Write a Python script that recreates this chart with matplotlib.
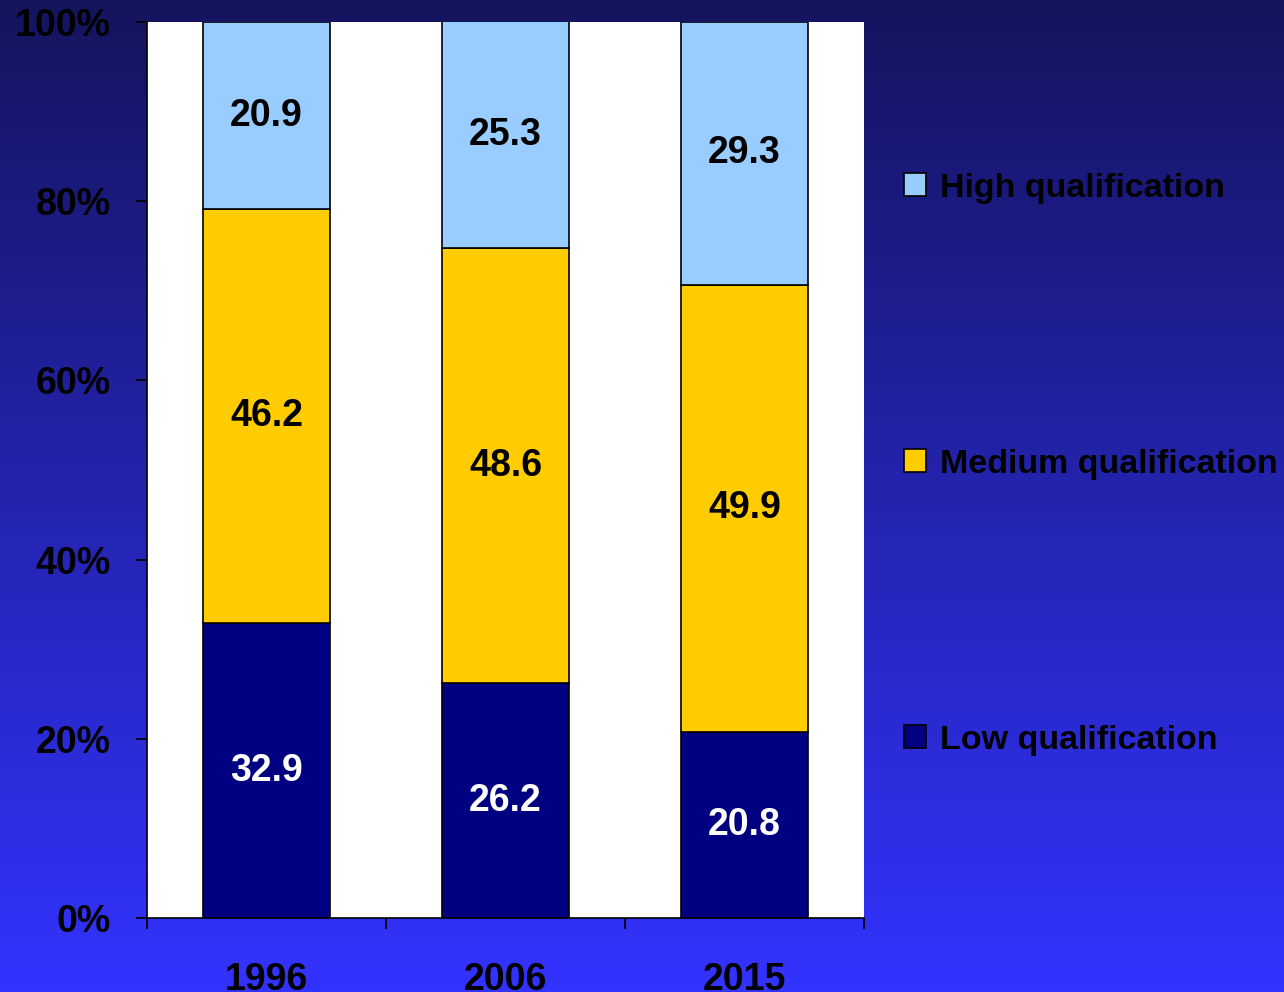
import numpy as np
import matplotlib
matplotlib.use("Agg")
import matplotlib.pyplot as plt
from matplotlib.colors import LinearSegmentedColormap

plt.rcParams['font.family'] = ['Liberation Sans', 'DejaVu Sans']
plt.rcParams['font.weight'] = 'bold'

# data
years = ['1996', '2006', '2015']
low = [32.9, 26.2, 20.8]
medium = [46.2, 48.6, 49.9]
high = [20.9, 25.3, 29.3]
series_names = ['Low qualification', 'Medium qualification', 'High qualification']
colors = ['#000080', '#FFCC00', '#99CCFF']
label_colors = ['white', 'black', 'black']

fig = plt.figure(figsize=(12.84, 9.92), dpi=100)

# gradient background
bg = fig.add_axes([0, 0, 1, 1], zorder=-10)
cmap = LinearSegmentedColormap.from_list('bg', ['#14145E', '#3333FF'])
bg.imshow(np.linspace(0, 1, 256).reshape(-1, 1), aspect='auto', cmap=cmap,
          extent=[0, 1, 1, 0])
bg.set_axis_off()

ax = fig.add_axes([0.1145, 0.0746, 0.5584, 0.9032])
ax.set_facecolor('white')

x = np.arange(len(years))
bottom = np.zeros(len(years))
handles = []
for vals, name, col, lc in zip([low, medium, high], series_names, colors, label_colors):
    bars = ax.bar(x, vals, 0.53, bottom=bottom, color=col, edgecolor='black',
                  linewidth=1.2, label=name)
    ax.bar_label(bars, fmt='%.1f', label_type='center', color=lc,
                 fontsize=27, fontweight='bold')
    bottom += np.array(vals)
    handles.append(bars)

ax.set_xlim(-0.5, 2.5)
ax.set_ylim(0, 100)
ax.set_yticks([0, 20, 40, 60, 80, 100])
ax.set_yticklabels(['0%', '20%', '40%', '60%', '80%', '100%'])
ax.set_xticks([-0.5, 0.5, 1.5, 2.5])
ax.set_xticklabels([])
ax.set_xticks(x, minor=True)
ax.set_xticklabels(years, minor=True)
ax.tick_params(axis='x', which='minor', length=0, pad=32, labelsize=27)
ax.tick_params(axis='x', which='major', length=8, width=1.2, direction='out')
ax.tick_params(axis='y', length=8, width=1.2, pad=18, labelsize=27)
for s in ['top', 'right']:
    ax.spines[s].set_visible(False)
for s in ['left', 'bottom']:
    ax.spines[s].set_linewidth(1.2)

leg = fig.legend(handles[::-1], series_names[::-1], loc='center left',
                 bbox_to_anchor=(0.704, 0.532), frameon=False, fontsize=24.5,
                 labelspacing=7.2, handlelength=0.65, handleheight=0.65,
                 handletextpad=0.4, borderpad=0, borderaxespad=0)
for t in leg.get_texts():
    t.set_fontweight('bold')

fig.savefig('out.png', dpi=100)
